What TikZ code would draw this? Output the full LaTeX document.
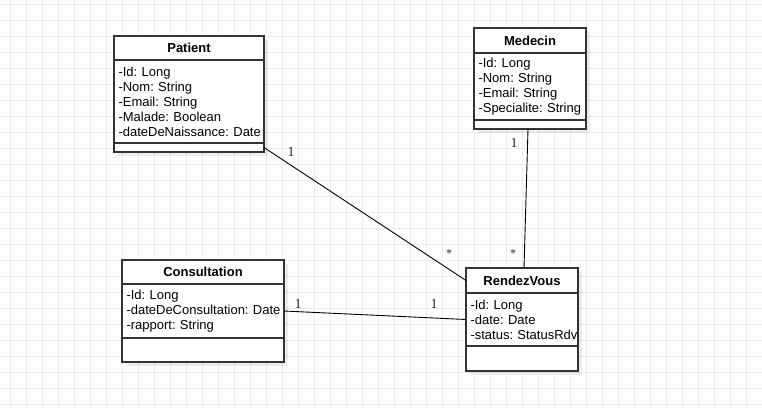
\documentclass[tikz,border=0pt]{standalone}
\usepackage{fontspec}
\setmainfont{Liberation Sans}
\newfontfamily\multfont{Liberation Serif}
\usepackage{tikz}
\usetikzlibrary{positioning, calc, shadows}

\definecolor{gridgray}{HTML}{EBEBEB}
\definecolor{boxline}{HTML}{333333}

\tikzset{
    classbox/.style={draw=boxline, line width=1.2pt, fill=white, outer sep=0pt, inner sep=0pt,
        drop shadow={shadow xshift=4pt, shadow yshift=-4pt, opacity=0.07, fill=black}},
    classname/.style={classbox, font=\fontsize{13}{15}\selectfont\bfseries},
    classattr/.style={classbox, font=\fontsize{13}{15}\selectfont\frenchspacing, align=left, inner xsep=4.5pt,
        execute at begin node={\hbadness=10000\hfuzz=50pt\hyphenpenalty=10000\exhyphenpenalty=10000}},
    mult/.style={font=\multfont\fontsize{14}{16}\selectfont, text=black!85, inner sep=0pt},
    many/.style={mult, font=\multfont\fontsize{12}{14}\selectfont},
    assoc/.style={draw=black, line width=0.9pt}
}

\begin{document}
\begin{tikzpicture}[x=1pt, y=-1pt]
    \useasboundingbox (0,0) rectangle (762,407);

    % Grid
    \foreach \gx in {10,26,...,762} {
        \draw[gridgray, line width=1pt] (\gx,0) -- (\gx,407);
    }
    \foreach \gy in {4,20,...,407} {
        \draw[gridgray, line width=1pt] (0,\gy) -- (762,\gy);
    }

    % Patient
    \node[classname, minimum width=150pt, minimum height=24pt, anchor=north west] (patT) at (114,36) {Patient};
    \node[classattr, text width=141pt, minimum height=83pt, below=0pt of patT] (patA)
        {-Id:~Long\\-Nom:~String\\-Email:~String\\-Malade:~Boolean\\-dateDeNaissance:~Date};
    \node[classbox, minimum width=150pt, minimum height=9pt, below=0pt of patA] (patO) {};

    % Medecin
    \node[classname, minimum width=112pt, minimum height=25pt, anchor=north west] (medT) at (474,28) {Medecin};
    \node[classattr, text width=103pt, minimum height=67pt, below=0pt of medT] (medA)
        {-Id:~Long\\-Nom:~String\\-Email:~String\\-Specialite:~String};
    \node[classbox, minimum width=112pt, minimum height=9pt, below=0pt of medA] (medO) {};

    % Consultation
    \node[classname, minimum width=162pt, minimum height=24pt, anchor=north west] (conT) at (122,260) {Consultation};
    \node[classattr, text width=153pt, minimum height=54pt, below=0pt of conT] (conA)
        {-Id:~Long\\-dateDeConsultation:~Date\\-rapport:~String};
    \node[classbox, minimum width=162pt, minimum height=24pt, below=0pt of conA] (conO) {};

    % RendezVous
    \node[classname, minimum width=112pt, minimum height=25pt, anchor=north west] (rdvT) at (466,268) {RendezVous};
    \node[classattr, text width=103pt, minimum height=53pt, below=0pt of rdvT] (rdvA)
        {-Id:~Long\\-date:~Date\\-status:~StatusRdv};
    \node[classbox, minimum width=112pt, minimum height=25pt, below=0pt of rdvA] (rdvO) {};

    % Associations
    \draw[assoc] (patO.east) -- (rdvT.west);
    \draw[assoc] ([xshift=-2pt]medO.south) -- ([xshift=2pt]rdvT.north);
    \draw[assoc] (conA.east) -- (rdvA.west);

    % Multiplicities
    \node[mult] (mPat) at (291,152) {1};
    \node[many] (mRdvPat) at (449,254) {*};
    \node[mult] (mMed) at (514,143) {1};
    \node[many] (mRdvMed) at (513,254) {*};
    \node[mult] (mCon) at (298,304) {1};
    \node[mult] (mRdvCon) at (434,304) {1};
\end{tikzpicture}
\end{document}
